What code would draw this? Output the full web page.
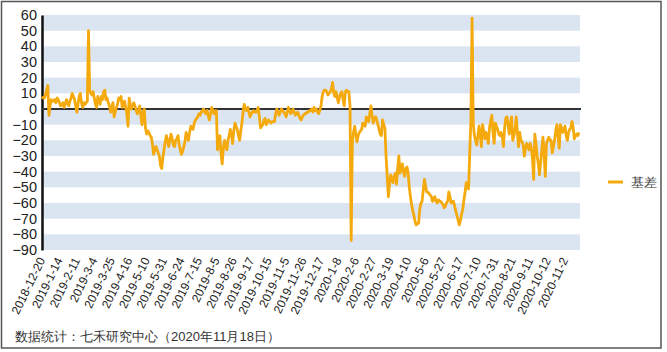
<!DOCTYPE html>
<html>
<head>
<meta charset="utf-8">
<script src="https://cdn.jsdelivr.net/npm/d3@7"></script>
<style>
  body { margin: 0; background: #fff; }
  svg text { font-family: "Liberation Sans", Arial, sans-serif; }
</style>
</head>
<body>
<div id="app"></div>
<script>
// x tick labels, one every 15 trading days
const tickLabels = [
  "2018-12-20", "2019-1-14", "2019-2-11", "2019-3-4", "2019-3-25", "2019-4-16",
  "2019-5-10", "2019-5-31", "2019-6-24", "2019-7-15", "2019-8-5", "2019-8-26",
  "2019-9-17", "2019-10-15", "2019-11-5", "2019-11-26", "2019-12-17", "2020-1-8",
  "2020-2-6", "2020-2-27", "2020-3-19", "2020-4-10", "2020-5-6", "2020-5-27",
  "2020-6-17", "2020-7-10", "2020-7-31", "2020-8-21", "2020-9-11", "2020-10-12",
  "2020-11-2"
];
const tickStep = 15;
const seriesName = "基差";

// daily basis values (2018-12-20 .. 2020-11-18)
const basis = [
  8, 7, 7, 9, 12, 15, -4, 2, 6, 5, 5, 6, 4, 7, 6, 4, 2, 3, 4, 1,
  3, 6, 4, 2, 5, 7, 10, 8, 6, 2, -2, 3, 8, 10, 4, 1, 4, 3, 4, 5,
  50, 12, 10, 9, 11, 7, 3, 1, 8, 5, 3, 8, 6, 11, 12, 6, 7, 4, 2, -2,
  1, 4, -5, -2, 1, 3, 7, 6, 8, 1, 3, 5, 1, -3, -11, 7, 3, 0, 2, 4,
  2, -1, -3, -1, 2, -4, -10, -2, 0, -12, -16, -14, -15, -17, -18, -22, -29, -26, -24, -26,
  -28, -30, -36, -38, -31, -26, -21, -17, -20, -24, -20, -16, -19, -23, -24, -20, -19, -17, -23, -26,
  -29, -27, -24, -21, -15, -18, -20, -15, -11, -12, -13, -9, -7, -6, -5, -3, -4, -2, -1, 0,
  -2, -3, -1, -4, -7, -3, 1, -1, -3, -1, -1, -26, -22, -17, -28, -35, -25, -20, -24, -26,
  -20, -17, -13, -16, -22, -14, -9, -11, -13, -17, -20, -14, -9, -2, 3, 0, -1, 1, -2, -5,
  -3, -2, -1, -2, -2, -1, 1, -5, -12, -11, -10, -7, -6, -10, -8, -7, -8, -9, -8, -8,
  -8, -3, 0, -2, -4, -2, 0, -1, -2, -3, -5, -2, 1, -1, -3, -2, 0, -2, -4, -3,
  -2, -4, -6, -7, -5, -4, -3, -3, -2, -2, -1, -1, 0, -2, 1, -1, 0, -2, -3, -1,
  2, 8, 11, 12, 12, 11, 9, 10, 11, 13, 17, 10, 8, 11, 7, 4, 8, 10, 11, 6,
  2, 11, 12, 11, 11, 2, -84, -22, -15, -11, -16, -21, -17, -15, -14, -13, -9, -10, -11, -5,
  -6, -8, -3, 2, -4, -9, -6, -5, -7, -10, -13, -16, -17, -7, -10, -12, -30, -43, -56, -48,
  -42, -45, -47, -43, -41, -48, -38, -30, -41, -38, -35, -40, -43, -38, -37, -41, -50, -56, -61, -65,
  -68, -72, -74, -73, -73, -64, -60, -59, -52, -45, -49, -53, -53, -54, -55, -56, -59, -57, -56, -59,
  -60, -58, -59, -59, -60, -61, -63, -62, -60, -59, -53, -56, -60, -59, -59, -62, -65, -68, -71, -74,
  -71, -67, -64, -58, -53, -47, -49, -51, -28, -7, 58, -9, -17, -20, -23, -17, -11, -16, -24, -10,
  -14, -19, -15, -18, -22, -12, -8, -4, -15, -22, -9, -11, -13, -16, -17, -15, -18, -24, -12, -6,
  -5, -10, -16, -9, -5, -20, -17, -13, -5, -15, -24, -15, -20, -21, -23, -30, -25, -22, -24, -26,
  -22, -25, -32, -45, -16, -22, -30, -35, -42, -34, -26, -18, -30, -43, -22, -20, -18, -20, -20, -28,
  -24, -20, -14, -10, -18, -25, -10, -12, -15, -13, -11, -17, -20, -15, -13, -12, -8, -12, -19, -17,
  -16, -17, -15
];

// basic chart settings
const chartSettings = {
  width: 667,
  height: 352,
  left: 42,
  right: 580,
  top: 15,
  bottom: 250,
  lineColor: "#f4a90c",
  bandColor: "#dbe5f1",
};

const svg = d3
  .select("#app")
  .append("svg")
  .attr("width", chartSettings.width)
  .attr("height", chartSettings.height);

// outer frame
svg
  .append("rect")
  .attr("x", 1.5)
  .attr("y", 1.5)
  .attr("width", 659.5)
  .attr("height", 346.5)
  .attr("fill", "none")
  .attr("stroke", "#555")
  .attr("stroke-width", 1.5);

const xScale = d3
  .scalePoint()
  .domain(d3.range(basis.length))
  .range([chartSettings.left, chartSettings.right - 1]);

const yScale = d3
  .scaleLinear()
  .domain([-90, 60])
  .range([chartSettings.bottom, chartSettings.top]);

// alternating horizontal bands
const bandStarts = d3.range(-90, 60, 20);
svg
  .append("g")
  .attr("class", "bands")
  .selectAll("rect")
  .data(bandStarts)
  .join("rect")
  .attr("x", chartSettings.left)
  .attr("y", (d) => yScale(d + 10))
  .attr("width", chartSettings.right - chartSettings.left)
  .attr("height", (d) => yScale(d) - yScale(d + 10))
  .attr("fill", chartSettings.bandColor);

// y axis
const yAxis = svg
  .append("g")
  .attr("class", "y-axis")
  .attr("transform", `translate(${chartSettings.left},0)`)
  .call(
    d3
      .axisLeft(yScale)
      .tickValues(d3.range(-90, 61, 10))
      .tickSize(0)
      .tickPadding(5)
  );
yAxis.select(".domain").attr("stroke", "#111").attr("stroke-width", 2.5);
yAxis
  .selectAll("text")
  .attr("font-size", 14.5)
  .attr("fill", "#222");

// x axis, rotated date labels
const xAxis = svg
  .append("g")
  .attr("class", "x-axis")
  .attr("transform", `translate(0,${chartSettings.bottom})`)
  .call(
    d3
      .axisBottom(xScale)
      .tickValues(tickLabels.map((d, i) => i * tickStep))
      .tickFormat((d) => tickLabels[d / tickStep])
      .tickSize(0)
  );
xAxis.select(".domain").remove();
xAxis
  .selectAll("text")
  .attr("font-size", 12)
  .attr("fill", "#222")
  .attr("text-anchor", "end")
  .attr("dy", 0)
  .attr("y", 0)
  .attr("transform", "translate(3,10) rotate(-64)");

// zero line
svg
  .append("line")
  .attr("x1", chartSettings.left)
  .attr("x2", chartSettings.right + 1)
  .attr("y1", yScale(0))
  .attr("y2", yScale(0))
  .attr("stroke", "#333")
  .attr("stroke-width", 2);

// the basis line
const line = d3
  .line()
  .x((d, i) => xScale(i))
  .y((d) => yScale(d));
svg
  .append("path")
  .datum(basis)
  .attr("d", line)
  .attr("fill", "none")
  .attr("stroke", chartSettings.lineColor)
  .attr("stroke-width", 2.8)
  .attr("stroke-linejoin", "round");

// legend
const legend = svg.append("g").attr("transform", "translate(608,182)");
legend
  .append("line")
  .attr("x1", 0)
  .attr("x2", 15)
  .attr("stroke", chartSettings.lineColor)
  .attr("stroke-width", 3);
legend
  .append("text")
  .attr("x", 23)
  .attr("y", 4.5)
  .attr("font-size", 13)
  .attr("fill", "#444")
  .text(seriesName);

// footnote
svg
  .append("text")
  .attr("x", 15)
  .attr("y", 341)
  .attr("font-size", 13)
  .attr("fill", "#333")
  .text("数据统计：七禾研究中心（2020年11月18日）");
</script>
</body>
</html>
